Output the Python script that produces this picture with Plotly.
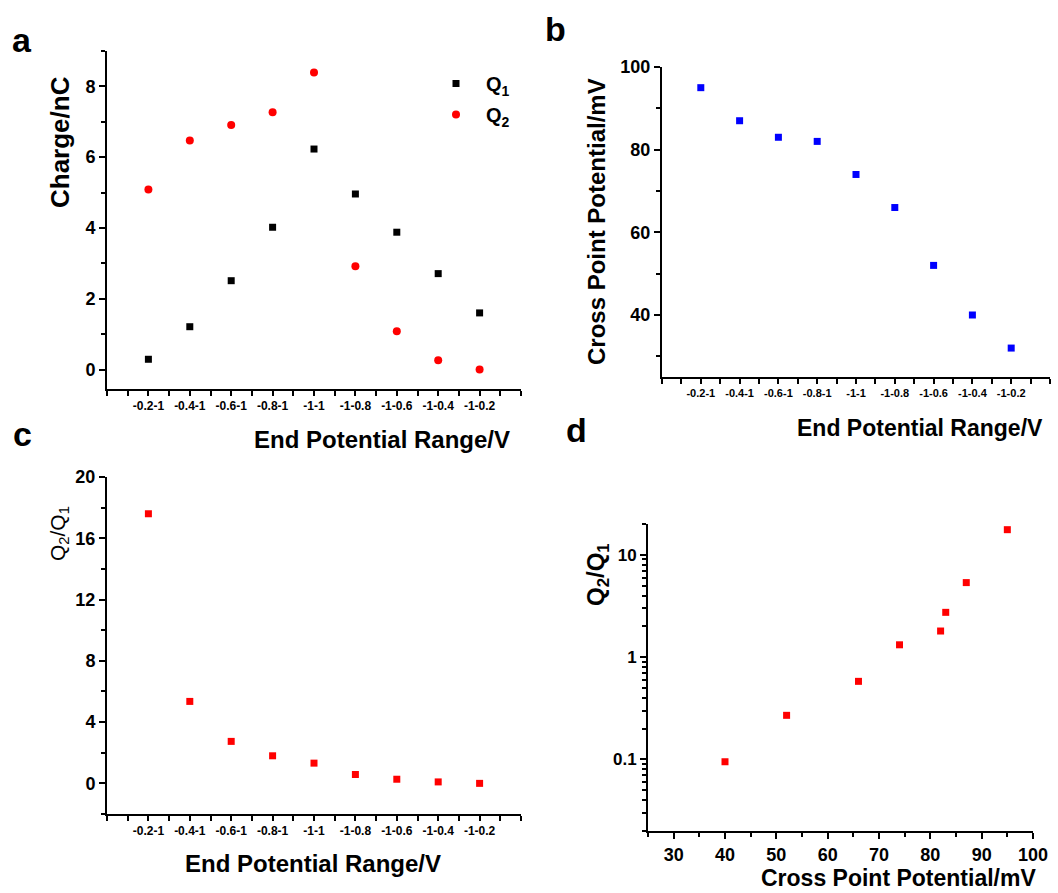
import math
import plotly.graph_objects as go

# ---------------- data ----------------
range_labels = ["-0.2-1", "-0.4-1", "-0.6-1", "-0.8-1", "-1-1",
                "-1-0.8", "-1-0.6", "-1-0.4", "-1-0.2"]
q1_charge = [0.29, 1.21, 2.51, 4.02, 6.23, 4.96, 3.88, 2.71, 1.60]
q2_charge = [5.09, 6.47, 6.91, 7.27, 8.39, 2.92, 1.08, 0.26, 0.0]
cross_point = [95, 87, 83, 82, 74, 66, 52, 40, 32]
ratio_q2_q1 = [17.6, 5.35, 2.74, 1.80, 1.32, 0.58, 0.27, 0.095, 0.0]

a_yticks = [0, 2, 4, 6, 8]
b_yticks = [40, 60, 80, 100]
c_yticks = [0, 4, 8, 12, 16, 20]
d_xticks = [30, 40, 50, 60, 70, 80, 90, 100]
d_yticks = [0.1, 1, 10]
d_yticktext = ["0.1", "1", "10"]

# ---------------- layout helpers ----------------
W, H = 1058, 893
FONT = "Liberation Sans, Arial, sans-serif"


def xp(px):
    return px / W


def yp(py):
    return 1 - py / H


cat_pos = list(range(1, len(range_labels) + 1))
cat_minor = [0] + [i + 0.5 for i in range(0, 10)] + [10]

fig = go.Figure()

# panel a
fig.add_trace(go.Scatter(x=cat_pos, y=q1_charge, mode="markers", name="Q<sub>1</sub>",
                         marker=dict(symbol="square", size=7, color="#000000"),
                         xaxis="x", yaxis="y", legendgroup="g1"))
fig.add_trace(go.Scatter(x=cat_pos, y=q2_charge, mode="markers", name="Q<sub>2</sub>",
                         marker=dict(symbol="circle", size=8, color="#ff0000"),
                         xaxis="x", yaxis="y", legendgroup="g2"))
# panel b
fig.add_trace(go.Scatter(x=cat_pos, y=cross_point, mode="markers", showlegend=False,
                         marker=dict(symbol="square", size=7, color="#0000ff"),
                         xaxis="x2", yaxis="y2"))
# panel c
fig.add_trace(go.Scatter(x=cat_pos, y=ratio_q2_q1, mode="markers", showlegend=False,
                         marker=dict(symbol="square", size=7, color="#ff0000"),
                         xaxis="x3", yaxis="y3"))
# panel d (log axis: zero ratio cannot be shown)
d_x = [c for c, r in zip(cross_point, ratio_q2_q1) if r > 0]
d_y = [r for r in ratio_q2_q1 if r > 0]
fig.add_trace(go.Scatter(x=d_x, y=d_y, mode="markers", showlegend=False,
                         marker=dict(symbol="square", size=7, color="#ff0000"),
                         xaxis="x4", yaxis="y4"))

axis_common = dict(showline=True, linecolor="black", linewidth=2, ticks="outside",
                   tickcolor="black", tickwidth=2, showgrid=False, zeroline=False,
                   mirror=False)


def cat_axis(domain, anchor, size):
    return dict(axis_common, domain=domain, anchor=anchor, range=[0, 10],
                tickmode="array", tickvals=cat_pos, ticktext=range_labels, ticklen=5,
                tickfont=dict(family=FONT, size=size, color="black", weight="bold"),
                minor=dict(tickmode="array", tickvals=cat_minor, ticks="outside",
                           ticklen=5, tickwidth=2, tickcolor="black"))


def lin_axis(domain, anchor, rng, vals, minor_vals, size):
    return dict(axis_common, domain=domain, anchor=anchor, range=rng,
                tickmode="array", tickvals=vals, ticktext=[str(v) for v in vals], ticklen=6,
                tickfont=dict(family=FONT, size=size, color="black", weight="bold"),
                minor=dict(tickmode="array", tickvals=minor_vals, ticks="outside",
                           ticklen=4, tickwidth=2, tickcolor="black"))


d_minor_y = [m * 10 ** e for e in (-2, -1, 0, 1) for m in range(2, 10)
             if 0.02 <= m * 10 ** e <= 20]

fig.update_layout(
    width=W, height=H, margin=dict(l=0, r=0, t=0, b=0, autoexpand=False),
    paper_bgcolor="white", plot_bgcolor="white",
    font=dict(family=FONT, color="black"),
    xaxis=cat_axis([xp(107), xp(521)], "y", 12),
    yaxis=lin_axis([yp(389), yp(51)], "x", [-0.55, 9], a_yticks, [1, 3, 5, 7, 9], 18),
    xaxis2=cat_axis([xp(662), xp(1050)], "y2", 11),
    yaxis2=lin_axis([yp(377), yp(67)], "x2", [25, 100], b_yticks, [30, 50, 70, 90], 18),
    xaxis3=cat_axis([xp(107), xp(521)], "y3", 12),
    yaxis3=lin_axis([yp(814), yp(477)], "x3", [-2, 20], c_yticks, [-2, 2, 6, 10, 14, 18], 18),
    xaxis4=lin_axis([xp(648), xp(1033)], "y4", [25, 100], d_xticks,
                    [25, 35, 45, 55, 65, 75, 85, 95], 18),
    yaxis4=dict(axis_common, domain=[yp(831), yp(524)], anchor="x4", type="log",
                range=[math.log10(0.02), math.log10(20)], tickmode="array",
                tickvals=d_yticks, ticktext=d_yticktext, ticklen=6,
                tickfont=dict(family=FONT, size=17, color="black", weight="bold"),
                minor=dict(tickmode="array", tickvals=d_minor_y, ticks="outside",
                           ticklen=4, tickwidth=2, tickcolor="black")),
    showlegend=True,
    legend=dict(x=xp(426), y=yp(64), xanchor="left", yanchor="top",
                bgcolor="rgba(0,0,0,0)", itemwidth=50, tracegroupgap=2,
                font=dict(family=FONT, size=20, color="black", weight="bold")),
)

annotations = []


def txt(text, x, y, size, angle=0, bold=True):
    annotations.append(dict(text=text, x=xp(x), y=yp(y), xref="paper", yref="paper",
                            xanchor="center", yanchor="middle", showarrow=False,
                            textangle=angle,
                            font=dict(family=FONT, size=size, color="black",
                                      weight="bold" if bold else "normal")))


# panel letters
txt("a", 22, 40, 34)
txt("b", 555, 29, 34)
txt("c", 22, 434, 34)
txt("d", 576, 430, 34)
# axis titles
txt("End Potential Range/V", 382, 440, 24)
txt("Charge/nC", 60, 142, 26, -90)
txt("End Potential Range/V", 920, 428, 23)
txt("Cross Point Potential/mV", 597, 222, 24, -90)
txt("End Potential Range/V", 313, 863, 24)
txt("Q<sub>2</sub>/Q<sub>1</sub>", 59, 534, 21, -90, bold=False)
txt("Cross Point Potential/mV", 898, 878, 23)
txt("Q<sub>2</sub>/Q<sub>1</sub>", 597, 575, 24, -90)

fig.update_layout(annotations=annotations)
fig.write_html("out.html")
